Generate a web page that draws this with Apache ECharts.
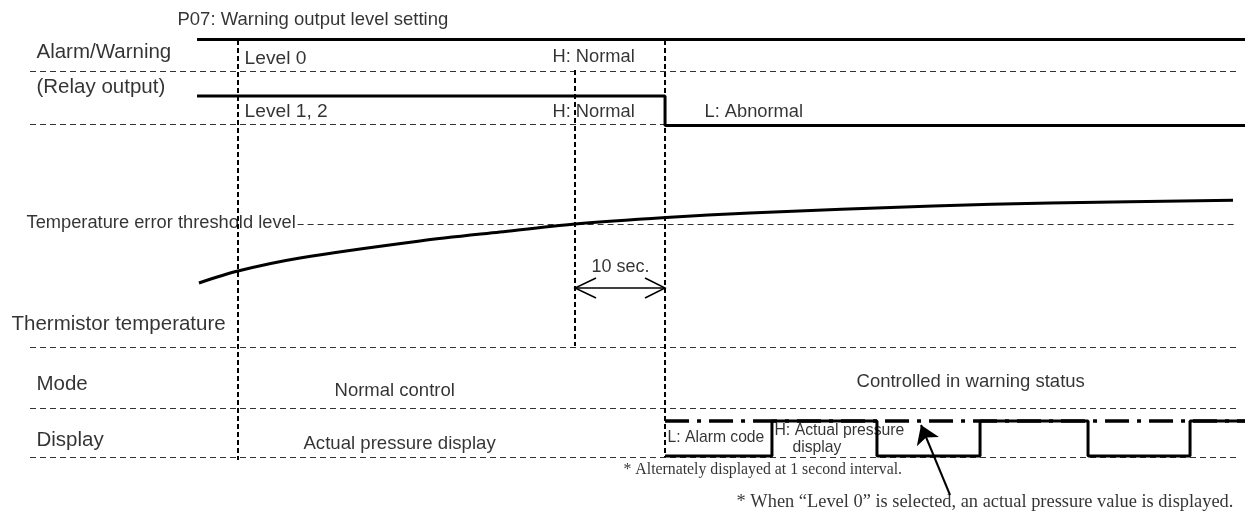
<!DOCTYPE html>
<html>
<head>
<meta charset="utf-8">
<style>html,body{margin:0;padding:0;background:#fff}#c{width:1248px;height:514px}</style>
<script src="https://cdn.jsdelivr.net/npm/echarts@6/dist/echarts.min.js"></script>
</head>
<body>
<div id="c"></div>
<script>
// ---- texts ----
const title = 'P07: Warning output level setting';
const rowLabels = ['Alarm/Warning', '(Relay output)', 'Thermistor temperature', 'Mode', 'Display'];
const levelLabels = ['Level 0', 'Level 1, 2'];
const relayStates = ['H: Normal', 'H: Normal', 'L: Abnormal'];
const thresholdLabel = 'Temperature error threshold level';
const delayLabel = '10 sec.';
const modeStates = ['Normal control', 'Controlled in warning status'];
const displayStates = ['Actual pressure display', 'L: Alarm code', 'H: Actual pressure', 'display'];
const notes = ['* Alternately displayed at 1 second interval.',
               '* When \u201CLevel 0\u201D is selected, an actual pressure value is displayed.'];

// ---- values (time units, level units) ----
const rowGuides = [88.6, 78.0, 33.4, 21.2, 11.4];
const guideSpan = [2.5, 103.0];
const thresholdLevel = 58.0;
const thresholdSpan = [24.8, 103.0];
const eventTimes = [19.83, 47.92, 55.42];
const eventSpans = [[94.8, 10.8], [88.8, 33.6], [94.8, 11.4]];
const level0Signal = [[16.42, 94.9], [103.75, 94.9]];
const relaySignal = [[16.42, 83.6], [55.42, 77.7], [103.75, 77.7]];
const thermistorTemp = [[16.58, 46.2], [19.83, 48.6], [25.0, 51.2], [35.0, 54.6], [41.67, 56.4],
  [47.92, 58.0], [55.5, 59.3], [62.5, 60.2], [77.75, 61.6], [87.5, 62.2], [102.75, 62.74]];
const displayToggles = [55.42, 64.33, 73.08, 81.67, 90.67, 99.17, 103.75];
const displayLevels = [11.6, 18.6, 11.6, 18.6, 11.6, 18.6, 18.6];
const level0Display = [[55.42, 18.6], [103.75, 18.6]];
const delayArrow = [[47.92, 45.2], [55.42, 45.2]];
const delayHeads = [[[49.67, 47.2], [47.92, 45.2], [49.67, 43.2]], [[53.75, 47.2], [55.42, 45.2], [53.75, 43.2]]];
const noteArrow = [[79.17, 3.8], [76.75, 17.8]];

// ---- text layout ----
const SANS = 'Liberation Sans, Arial, sans-serif';
const SERIF = 'Liberation Serif, Times New Roman, serif';
const textLayout = [
  {t: title, at: [14.83, 98.8], s: 18.5},
  {t: rowLabels[0], at: [3.08, 92.3], s: 20.5},
  {t: rowLabels[1], at: [3.08, 85.2], s: 20.5},
  {t: rowLabels[2], at: [1.0, 37.8], s: 20.5},
  {t: rowLabels[3], at: [3.08, 25.8], s: 20.5},
  {t: rowLabels[4], at: [3.08, 14.6], s: 20.5},
  {t: levelLabels[0], at: [20.42, 91.0], s: 19.2},
  {t: levelLabels[1], at: [20.42, 80.4], s: 19.2},
  {t: relayStates[0], at: [46.08, 91.4], s: 18.3},
  {t: relayStates[1], at: [46.08, 80.4], s: 18.3},
  {t: relayStates[2], at: [58.75, 80.4], s: 18.3},
  {t: thresholdLabel, at: [2.25, 58.2], s: 18.3},
  {t: delayLabel, at: [51.75, 49.2], s: 18, a: 'center'},
  {t: modeStates[0], at: [27.92, 24.6], s: 18.5},
  {t: modeStates[1], at: [71.42, 26.4], s: 18.5},
  {t: displayStates[0], at: [25.33, 14.0], s: 18.6},
  {t: displayStates[1], at: [55.67, 15.2], s: 15.7},
  {t: displayStates[2], at: [64.58, 16.6], s: 15.8},
  {t: displayStates[3], at: [66.08, 13.2], s: 15.7},
  {t: notes[0], at: [52.0, 8.8], s: 15.8, f: SERIF},
  {t: notes[1], at: [61.42, 2.2], s: 18.4, f: SERIF}
];

const chart = echarts.init(document.getElementById('c'), null, {renderer: 'canvas'});
const thick = {color: '#000', width: 3};
const option = {
  backgroundColor: '#fff',
  animation: false,
  grid: {left: 0, right: 0, top: 0, bottom: 0},
  xAxis: {type: 'value', min: 0, max: 104, show: false},
  yAxis: {type: 'value', min: 0, max: 102.8, show: false},
  series: [
    {type: 'lines', coordinateSystem: 'cartesian2d', silent: true, z: 1,
     data: rowGuides.map(y => ({coords: [[guideSpan[0], y], [guideSpan[1], y]]}))
       .concat([{coords: [[thresholdSpan[0], thresholdLevel], [thresholdSpan[1], thresholdLevel]]}]),
     lineStyle: {color: '#333', width: 1, type: [6, 4], opacity: 1}},
    {type: 'lines', coordinateSystem: 'cartesian2d', silent: true, z: 2,
     data: eventTimes.map((x, i) => ({coords: [[x, eventSpans[i][0]], [x, eventSpans[i][1]]]})),
     lineStyle: {color: '#000', width: 2, type: [5, 3], opacity: 1}},
    {type: 'line', data: level0Signal, symbol: 'none', lineStyle: thick, z: 3},
    {type: 'line', data: relaySignal, step: 'end', symbol: 'none', lineStyle: thick, z: 3},
    {type: 'line', data: thermistorTemp, smooth: 0.3, symbol: 'none', lineStyle: thick, z: 3},
    {type: 'line', data: level0Display, symbol: 'none', lineStyle: {color: '#000', width: 3.5, type: [24, 8, 4, 8]}, z: 3},
    {type: 'line', data: displayToggles.map((x, i) => [x, displayLevels[i]]), step: 'end', symbol: 'none', lineStyle: thick, z: 4},
    {type: 'line', data: delayArrow, symbol: 'none', lineStyle: {color: '#000', width: 1.5}, z: 3},
    {type: 'lines', coordinateSystem: 'cartesian2d', polyline: true, silent: true, z: 3,
     data: delayHeads.map(c => ({coords: c})), lineStyle: {color: '#000', width: 1.5, opacity: 1}},
    {type: 'lines', coordinateSystem: 'cartesian2d', silent: true, z: 5,
     symbol: ['none', 'arrow'], symbolSize: 18,
     data: [{coords: noteArrow}], lineStyle: {color: '#000', width: 2, opacity: 1}},
    {type: 'scatter', symbolSize: 1, clip: false, silent: true, z: 10,
     itemStyle: {color: 'rgba(0,0,0,0)'},
     data: textLayout.map(d => ({
       value: d.at,
       label: {show: true, position: [0, 0], formatter: d.t, align: d.a || 'left', verticalAlign: 'middle',
               fontSize: d.s, fontFamily: d.f || SANS, color: '#000', textBorderWidth: 0}
     }))}
  ]
};
chart.setOption(option);
</script>
</body>
</html>
